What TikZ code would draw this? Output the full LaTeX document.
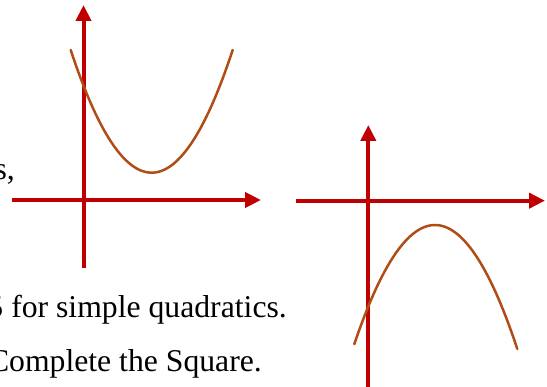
\documentclass[tikz,border=0pt]{standalone}
\usepackage{fontspec}
\setmainfont{Liberation Serif}
\usetikzlibrary{arrows.meta}
\definecolor{axisred}{RGB}{192,0,0}
\definecolor{curvebrown}{RGB}{176,76,22}

\begin{document}
\begin{tikzpicture}[x=1pt, y=-1pt,
 axis/.style={draw=axisred, line width=4pt, -{Triangle[length=16pt, width=15pt]}},
 curve/.style={draw=curvebrown, line width=2.5pt, line cap=round},
 txt/.style={inner sep=0pt, font=\fontsize{31.7}{38}\selectfont, anchor=base east},
]
\useasboundingbox (0,0) rectangle (547,387);
\clip (0,0) rectangle (547,387);
% text cut off at the left edge
\node[txt] (frag) at (15,180) {s,};
\node[txt] (line1) at (287,318) {5 for simple quadratics.};
\node[txt] (line2) at (262,372) {Complete the Square.};
% upward parabola
\coordinate (ya1) at (83.5,268);
\coordinate (yb1) at (83.5,5);
\coordinate (xa1) at (12,200);
\coordinate (xb1) at (261,200);
\draw[axis] (ya1) -- (yb1);
\draw[axis] (xa1) -- (xb1);
\draw[curve] plot[domain=70.7:232.7, samples=60] ({\x},{172.7-0.0187*(\x-151.7)^2});
% downward parabola
\coordinate (ya2) at (368.3,390);
\coordinate (yb2) at (368.3,125);
\coordinate (xa2) at (296,200.7);
\coordinate (xb2) at (545,200.7);
\draw[axis] (ya2) -- (yb2);
\draw[axis] (xa2) -- (xb2);
\draw[curve] plot[domain=354.3:517.3, samples=60] ({\x},{225+0.0183*(\x-435)^2});
\end{tikzpicture}
\end{document}
